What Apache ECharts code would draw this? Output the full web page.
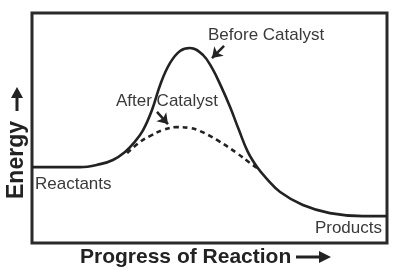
<!DOCTYPE html>
<html>
<head>
<meta charset="utf-8">
<script src="https://cdn.jsdelivr.net/npm/echarts@6/dist/echarts.min.js"></script>
<style>html,body{margin:0;padding:0;background:#fff}#c{width:396px;height:270px}</style>
</head>
<body>
<div id="c"></div>
<script>
// Progress of reaction (0-100) and energy (0-100)
var beforeX = [0, 13.5, 19.2, 22.8, 26.2, 28.7, 31.3, 33.8, 36.3, 38.9, 41.7, 44.5, 48.2, 50.7, 53.2, 55.8, 58.3, 60.8, 63.4, 65.9, 69.9, 76.3, 83.9, 93.2, 100];
var beforeY = [33.0, 33.0, 34.3, 36.1, 39.6, 43.5, 49.1, 57.8, 69.6, 78.3, 83.5, 84.8, 81.7, 76.1, 68.3, 59.1, 49.1, 39.6, 33.0, 28.3, 22.2, 16.5, 13.0, 11.7, 11.7];
var afterX = [26.8, 30.4, 33.2, 36.9, 40.8, 44.5, 47.3, 52.1, 57.7, 61.4, 63.4];
var afterY = [39.1, 43.9, 46.5, 49.1, 50.4, 50.0, 48.7, 44.8, 39.1, 34.8, 32.6];
var labels = ['Before Catalyst', 'After Catalyst', 'Reactants', 'Products'];
var axisTitles = ['Progress of Reaction', 'Energy'];

function zip(a, b) { return a.map(function (v, i) { return [v, b[i]]; }); }

var chart = echarts.init(document.getElementById('c'));
var txt = '#3a3a3a';
var font = 'Liberation Sans, Arial, sans-serif';
chart.setOption({
  animation: false,
  grid: { left: 32, top: 13, right: 9, bottom: 27, show: true, borderColor: '#2a2a2a', borderWidth: 3, backgroundColor: 'transparent' },
  xAxis: { type: 'value', min: 0, max: 100, show: false },
  yAxis: { type: 'value', min: 0, max: 100, show: false },
  series: [
    { type: 'line', data: zip(beforeX, beforeY), smooth: 0.4, symbol: 'none',
      lineStyle: { color: '#222', width: 2.6 },
      markLine: { silent: true, symbol: ['none', 'arrow'], symbolSize: 10,
        lineStyle: { color: '#222', width: 2.5, type: 'solid' }, label: { show: false },
        data: [
          [{ coord: [54.1, 85.7] }, { coord: [50.7, 80.4] }],
          [{ coord: [35.2, 57.0] }, { coord: [38.3, 51.7] }]
        ] } },
    { type: 'line', data: zip(afterX, afterY), smooth: 0.4, symbol: 'none',
      lineStyle: { color: '#222', width: 2.6, type: [5, 4] } }
  ],
  graphic: [
    { type: 'text', x: 208, y: 35, style: { text: labels[0], font: '17px ' + font, fill: txt, verticalAlign: 'middle' } },
    { type: 'text', x: 116, y: 101, style: { text: labels[1], font: '17px ' + font, fill: txt, verticalAlign: 'middle' } },
    { type: 'text', x: 35, y: 184, style: { text: labels[2], font: '17px ' + font, fill: txt, verticalAlign: 'middle' } },
    { type: 'text', x: 382, y: 228, style: { text: labels[3], font: '17px ' + font, fill: txt, align: 'right', verticalAlign: 'middle' } },
    { type: 'text', x: 80, y: 257, style: { text: axisTitles[0], font: 'bold 21px ' + font, fill: '#222', verticalAlign: 'middle' } },
    { type: 'line', shape: { x1: 296, y1: 257, x2: 322, y2: 257 }, style: { stroke: '#222', lineWidth: 3 } },
    { type: 'polygon', shape: { points: [[319, 251], [331, 257], [319, 263]] }, style: { fill: '#222' } },
    { type: 'text', x: 17, y: 160, rotation: Math.PI / 2, style: { text: axisTitles[1], font: 'bold 23px ' + font, fill: '#222', align: 'center', verticalAlign: 'middle' } },
    { type: 'line', shape: { x1: 17, y1: 111, x2: 17, y2: 96 }, style: { stroke: '#222', lineWidth: 3 } },
    { type: 'polygon', shape: { points: [[11, 98], [17, 87], [23, 98]] }, style: { fill: '#222' } }
  ]
});
</script>
</body>
</html>
